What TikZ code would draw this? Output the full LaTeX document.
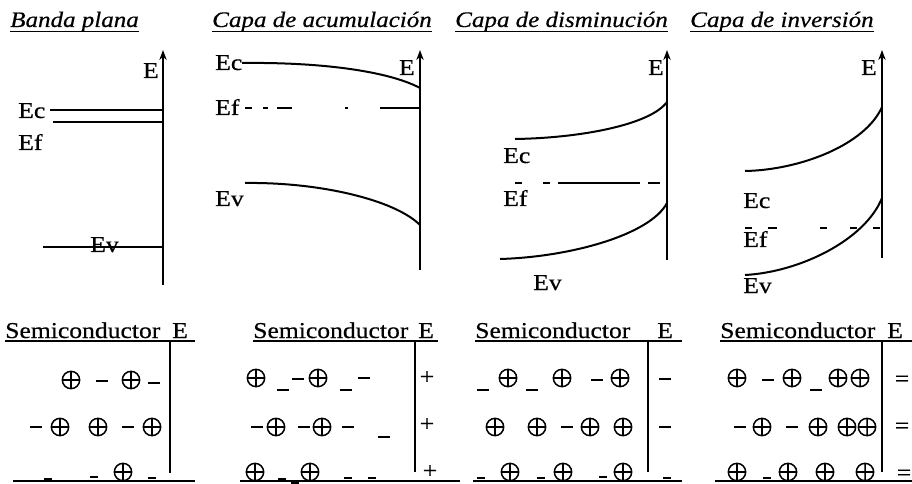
\documentclass[tikz,border=0pt]{standalone}
\usepackage{fontspec}
\setmainfont{Liberation Serif}[FakeStretch=1.13,FakeBold=0.5]
\usetikzlibrary{arrows.meta}
\newcommand\lblfont{\fontsize{17}{19}\selectfont}
\newcommand\ttlfont{\fontsize{16.6}{18}\selectfont\itshape}
\begin{document}
\begin{tikzpicture}[x=0.75pt,y=-0.75pt,
  every node/.style={inner sep=0pt,font=\lblfont},
  ttl/.style={font=\ttlfont},
  band/.style={line width=1.5pt},
  axisline/.style={line width=1.7pt,-{Stealth[length=7.5pt,width=5.5pt]}},
  lvl/.style={line width=1.2pt},
  ul/.style={line width=1.2pt},
  plate/.style={line width=1.6pt},
  opl/.pic={\draw[line width=1.15pt] (0,0) circle[radius=6.5pt] (-6.5pt,0)--(6.5pt,0) (0,-6.5pt)--(0,6.5pt);},
  mn/.pic={\draw[line width=1.3pt] (-4.5pt,0)--(4.5pt,0);},
  smn/.pic={\draw[line width=1.3pt] (-3pt,0)--(3pt,0);}
]
\useasboundingbox (0,0) rectangle (912,484);

% ---------- titles ----------
\node[ttl,anchor=base west] (t1) at (10,27) {Banda plana};
\node[ttl,anchor=base west] (t2) at (212,27) {Capa de acumulación};
\node[ttl,anchor=base west] (t3) at (455,27) {Capa de disminución};
\node[ttl,anchor=base west] (t4) at (690,27) {Capa de inversión};
\foreach \t in {t1,t2,t3,t4}
  \draw[ul] ([yshift=-3.5pt]\t.base west) -- ([yshift=-3.5pt]\t.base east);

% ---------- panel 1: banda plana ----------
\draw[axisline] (163,285) -- (163,50);
\node[anchor=base east] (e1) at (159,78) {E};
\node[anchor=base west] (ec1) at (18,118) {Ec};
\node[anchor=base west] (ef1) at (18,150) {Ef};
\node[anchor=base west] (ev1) at (90,252) {Ev};
\draw[band] (50,110) -- (163,110);
\draw[lvl] (53,122) -- (163,122);
\draw[band] (43,247) -- (163,247);

% ---------- panel 2: acumulacion ----------
\draw[axisline] (420,270) -- (420,50);
\node[anchor=base east] (e2) at (415,75) {E};
\node[anchor=base west] (ec2) at (215,70) {Ec};
\node[anchor=base west] (ef2) at (215,115) {Ef};
\node[anchor=base west] (ev2) at (215,206) {Ev};
\draw[band] (242,63) .. controls (330,62) and (392,73) .. (420,88);
\draw[lvl] (245,108)--(252,108) (263,108)--(268,108) (277,108)--(292,108)
           (345,108)--(348,108) (380,108)--(420,108);
\draw[band] (245,183) .. controls (320,182) and (395,200) .. (420,225);

% ---------- panel 3: disminucion ----------
\draw[axisline] (667,260) -- (667,50);
\node[anchor=base east] (e3) at (664,75) {E};
\node[anchor=base west] (ec3) at (503,163) {Ec};
\node[anchor=base west] (ef3) at (503,206) {Ef};
\node[anchor=base west] (ev3) at (533,290) {Ev};
\draw[band] (515,139) .. controls (580,138) and (650,125) .. (667,102);
\draw[lvl] (515,183)--(522,183) (543,183)--(550,183) (558,183)--(640,183) (648,183)--(660,183);
\draw[band] (500,259) .. controls (570,257) and (650,235) .. (667,203);

% ---------- panel 4: inversion ----------
\draw[axisline] (882,258) -- (882,50);
\node[anchor=base east] (e4) at (877,75) {E};
\node[anchor=base west] (ec4) at (743,208) {Ec};
\node[anchor=base west] (ef4) at (743,247) {Ef};
\node[anchor=base west] (ev4) at (743,293) {Ev};
\draw[band] (745,171) .. controls (800,170) and (865,145) .. (882,107);
\draw[lvl] (745,228)--(752,228) (768,228)--(777,228) (820,228)--(827,228)
           (850,228)--(857,228) (873,228)--(880,228);
\draw[band] (745,275) .. controls (800,272) and (865,240) .. (882,198);

% ---------- bottom labels ----------
\node[anchor=base west] (s1) at (5,338) {Semiconductor};
\node[anchor=base west] (se1) at (172,338) {E};
\node[anchor=base west] (s2) at (253,338) {Semiconductor};
\node[anchor=base west] (se2) at (418,338) {E};
\node[anchor=base west] (s3) at (475,338) {Semiconductor};
\node[anchor=base west] (se3) at (657,338) {E};
\node[anchor=base west] (s4) at (720,338) {Semiconductor};
\node[anchor=base west] (se4) at (887,338) {E};

% underlines, interfaces, bottom lines
\draw[ul] (5,341) -- (195,341);
\draw[ul] (253,341) -- (438,341);
\draw[ul] (475,341) -- (682,341);
\draw[ul] (720,341) -- (912,341);
\draw[plate] (170,341) -- (170,473);
\draw[plate] (415,341) -- (415,472);
\draw[plate] (648,341) -- (648,472);
\draw[plate] (882,341) -- (882,472);
\draw[plate] (13,481) -- (195,481);
\draw[plate] (240,481) -- (460,481);
\draw[plate] (473,481) -- (682,481);
\draw[plate] (715,481) -- (912,481);

% ---------- charges ----------
\foreach \x/\y in {71/380,131/380,60/427,98/427,152/427,123/472,
                   256/378,318/378,276/427,322/427,255/472,310/472,
                   508/378,562/378,620/378,495/427,537/427,590/427,623/427,510/472,563/472,623/472,
                   737/378,792/378,838/378,860/378,762/427,818/427,847/427,867/427,737/472,788/472,825/472,865/472}
  \pic at (\x,\y) {opl};
\foreach \x/\y in {102/381,154/383,36/427,128/427,
                   298/379,364/378,257/427,304/427,348/427,283/390,346/390,384/437,
                   597/380,567/427,483/390,532/390,665/379,665/427,
                   768/380,740/427,792/427,816/390}
  \pic at (\x,\y) {mn};
\foreach \x/\y in {48/479,94/477,152/478,
                   282/479,295/483,348/478,372/478,
                   481/478,541/478,603/477,667/478,
                   767/478}
  \pic at (\x,\y) {smn};

% surface charges (metal side)
\node[anchor=base] (q21) at (427,384) {+};
\node[anchor=base] (q22) at (427,431) {+};
\node[anchor=base] (q23) at (430,478) {+};
\node[anchor=base] (q41) at (902,386) {=};
\node[anchor=base] (q42) at (902,433) {=};
\node[anchor=base] (q43) at (904,480) {=};
\end{tikzpicture}
\end{document}
